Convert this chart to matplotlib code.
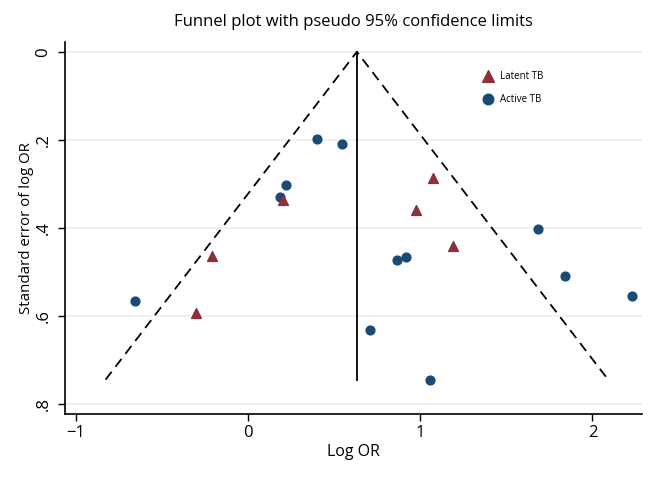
import matplotlib
matplotlib.use("Agg")
import matplotlib.pyplot as plt
import numpy as np

plt.rcParams["font.family"] = ["Open Sans", "DejaVu Sans"]

# pooled estimate and max standard error for the pseudo 95% limits
pooled = 0.633
se_max = 0.744

# Active TB studies (log OR, SE)
active_x = [-0.652, 0.400, 0.547, 0.221, 0.184, 1.683, 0.865, 0.919, 1.840, 2.230, 0.710, 1.058]
active_se = [0.566, 0.197, 0.210, 0.302, 0.330, 0.403, 0.473, 0.465, 0.508, 0.554, 0.632, 0.744]

# Latent TB studies
latent_x = [0.207, 1.075, 0.979, 1.192, -0.209, -0.300]
latent_se = [0.336, 0.287, 0.360, 0.440, 0.463, 0.593]

yticks = [0, 0.2, 0.4, 0.6, 0.8]
ytick_labels = ["0", ".2", ".4", ".6", ".8"]
xticks = [-1, 0, 1, 2]

blue = "#1a4a75"
red = "#8e2f3c"

fig = plt.figure(figsize=(6.6, 4.8), dpi=100)
ax = fig.add_axes([0.099, 0.1375, 0.874, 0.7755])

for y in yticks:
    ax.axhline(y, color="#eeeeee", linewidth=1.2, zorder=0)

# funnel
ax.plot([pooled, pooled], [0, se_max], color="black", linewidth=1.3, zorder=2)
ax.plot([pooled - 1.96 * se_max, pooled, pooled + 1.96 * se_max], [se_max, 0, se_max],
        color="black", linewidth=1.3, linestyle=(0, (5.5, 3.5)), zorder=2)

ax.scatter(active_x, active_se, s=40, marker="o", color=blue, zorder=3, label="Active TB")
ax.scatter(latent_x, latent_se, s=50, marker="^", color=red, zorder=4, label="Latent TB")

ax.set_xlim(-1.059, 2.289)
ax.set_ylim(0.822, -0.0227)
ax.set_yticks(yticks)
ax.set_yticklabels(ytick_labels, rotation=90, va="center")
ax.set_xticks(xticks)
ax.set_xticklabels(["\u22121", "0", "1", "2"])
ax.tick_params(axis="both", labelsize=12, length=5, width=1, direction="out")
ax.tick_params(axis="y", pad=5)
ax.tick_params(axis="x", pad=3)

for side in ["top", "right"]:
    ax.spines[side].set_visible(False)
for side in ["left", "bottom"]:
    ax.spines[side].set_linewidth(1.2)

ax.set_xlabel("Log OR", fontsize=11.5, labelpad=2)
ax.set_ylabel("Standard error of log OR", fontsize=10.8, labelpad=1)
ax.set_title("Funnel plot with pseudo 95% confidence limits", fontsize=12, pad=11)

handles, labels = ax.get_legend_handles_labels()
leg = ax.legend(handles[::-1], labels[::-1], loc="upper left", bbox_to_anchor=(0.70, 0.945),
                frameon=False, fontsize=7, handletextpad=0.3, labelspacing=1.2,
                scatterpoints=1, markerscale=1.2)

fig.savefig("out.png", dpi=100)
